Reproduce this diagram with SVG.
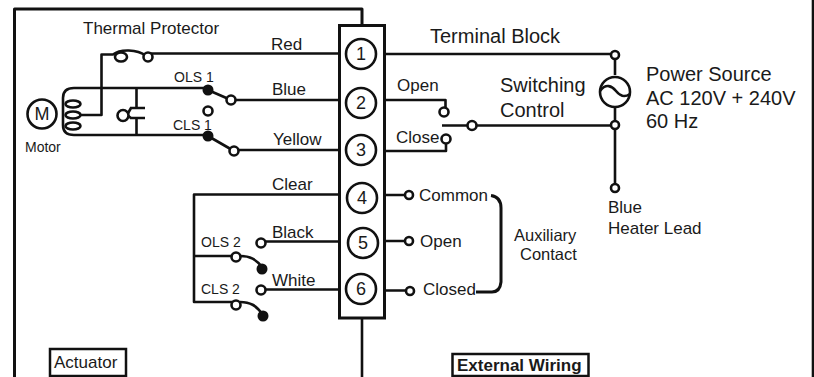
<svg xmlns="http://www.w3.org/2000/svg" width="814" height="377" viewBox="0 0 814 377">
<style>
text{font-family:"Liberation Sans",Arial,sans-serif;fill:#1a1a1a}
.w{fill:none;stroke:#111;stroke-width:2.6;stroke-linejoin:round}
.t{fill:#fff;stroke:#111;stroke-width:3}
.o{fill:#fff;stroke:#111;stroke-width:2.6}
.d{fill:#111}
.l20{font-size:20px}.l17{font-size:17px}.l16{font-size:16.5px}.l14{font-size:14px}.n{font-size:18px;text-anchor:middle}
</style>
<rect width="814" height="377" fill="#fff"/>
<g id="connectors">
<path class="w" d="M14.500 377V9H362V25" style="stroke-width:3"/>
<path class="w" d="M813 0V377"/>
<path class="w" d="M362 318V377"/>
<path class="w" d="M340 53.500H148M80 115H101.500V54.500H113C120 49 137 49 146 56"/>
<path class="w" d="M340 100H232M205 88H74Q63 88 63 98V125Q63 135 74 135H205M136.500 88V108M136.500 118V135"/>
<path class="w" d="M340 150H235M208 136L234 151M208 90L231 100"/>
<path class="w" d="M340 194.500H194V302H236M194 256H236"/>
<path class="w" d="M340 241.500H262M340 289.500H262"/>
<path class="w" d="M240 256C250 256 256 259 263 268M240 302C250 302 256 305 263 315"/>
<path class="w" d="M384 54H615M615 55V75M615 108V188"/>
<path class="w" d="M384 100H445.500V110M384 151H446V139"/>
<path class="w" d="M442 125.500H615"/>
<path class="w" d="M384 195H409M384 241H409M384 290.500H410"/>
<path class="w" d="M491 195.500Q501 197 501 208V282Q500 292 492 292H476" style="stroke-width:3"/>
</g>
<g id="terminal-block"><rect class="t" x="339.500" y="25.500" width="45" height="292.500"/></g>
<g id="term-1"><circle class="o" cx="361" cy="54" r="15"/><text class="n" x="361" y="60">1</text></g>
<g id="term-2"><circle class="o" cx="361" cy="103" r="15"/><text class="n" x="361" y="109">2</text></g>
<g id="term-3"><circle class="o" cx="361" cy="150" r="15"/><text class="n" x="361" y="156">3</text></g>
<g id="term-4"><circle class="o" cx="362" cy="198" r="15"/><text class="n" x="362" y="204">4</text></g>
<g id="term-5"><circle class="o" cx="363" cy="243" r="15"/><text class="n" x="363" y="249">5</text></g>
<g id="term-6"><circle class="o" cx="361" cy="289" r="15"/><text class="n" x="361" y="295">6</text></g>
<g id="motor">
<circle class="o" cx="42" cy="114" r="14.500"/><text class="n" x="42" y="120">M</text>
<ellipse class="o" cx="73" cy="104" rx="7.500" ry="3.500"/><ellipse class="o" cx="73" cy="115" rx="7.500" ry="3.500"/><ellipse class="o" cx="73" cy="126" rx="7.500" ry="3.500"/>
<text class="l14" x="25" y="152">Motor</text>
</g>
<g id="capacitor">
<path class="w" d="M130 108H145M130 118H145M127 115L131 108M127 115L131 118"/>
<circle class="o" cx="123" cy="115.500" r="5.500"/>
</g>
<g id="thermal"><ellipse class="o" cx="121" cy="57" rx="6" ry="4.500"/><circle class="o" cx="148" cy="57" r="4.500"/>
<text class="l17" x="83" y="34">Thermal Protector</text></g>
<g id="ols1"><circle class="d" cx="208" cy="90" r="5.500"/><circle class="o" cx="231" cy="100" r="4.500"/><circle class="o" cx="208" cy="111" r="4.500"/><text class="l14" x="174" y="82">OLS 1</text></g>
<g id="cls1"><circle class="d" cx="208" cy="136" r="5.500"/><circle class="o" cx="234" cy="151" r="4.500"/><text class="l14" x="173" y="130">CLS 1</text></g>
<g id="ols2"><circle class="o" cx="261" cy="243" r="4.500"/><circle class="o" cx="236" cy="257" r="4.500"/><circle class="d" cx="262" cy="269" r="5.500"/><text class="l14" x="201" y="247">OLS 2</text></g>
<g id="cls2"><circle class="o" cx="261" cy="290" r="4.500"/><circle class="o" cx="236" cy="305" r="4.500"/><circle class="d" cx="263" cy="316" r="5.500"/><text class="l14" x="201" y="294">CLS 2</text></g>
<g id="wire-labels">
<text class="l17" x="271" y="50">Red</text><text class="l17" x="272" y="95">Blue</text><text class="l17" x="273" y="145">Yellow</text><text class="l17" x="272" y="190">Clear</text><text class="l17" x="272" y="238">Black</text><text class="l17" x="272" y="286">White</text>
</g>
<g id="switching">
<circle class="o" cx="444" cy="112" r="4.500"/><circle class="o" cx="446" cy="139" r="4.500"/><circle class="o" cx="472" cy="125.500" r="4.500"/>
<text class="l17" x="397" y="91">Open</text><text class="l17" x="396" y="143">Close</text>
<text class="l20" x="500" y="92">Switching</text><text class="l20" x="500" y="117">Control</text>
<text class="l20" x="430" y="43">Terminal Block</text>
</g>
<g id="power">
<circle class="o" cx="615" cy="55" r="4"/><circle class="o" cx="615" cy="125" r="4"/><circle class="o" cx="615" cy="188" r="4"/>
<circle class="o" cx="615" cy="92" r="15"/><path class="w" d="M600 91C606 83 612 86 616 91S624 98 630 94"/>
<text class="l20" x="646" y="81">Power Source</text><text class="l20" x="646" y="105">AC 120V + 240V</text><text class="l20" x="646" y="128">60 Hz</text>
<text class="l17" x="608" y="213">Blue</text><text class="l17" x="608" y="234">Heater Lead</text>
</g>
<g id="aux">
<circle class="o" cx="409" cy="195" r="4"/><circle class="o" cx="409" cy="241" r="4"/><circle class="o" cx="410" cy="291" r="4"/>
<text class="l17" x="419" y="201">Common</text><text class="l17" x="420" y="247">Open</text><text class="l17" x="423" y="295">Closed</text>
<text class="l16" x="514" y="241">Auxiliary</text><text class="l16" x="520" y="260">Contact</text>
</g>
<g id="actuator"><rect x="50" y="349" width="76" height="27" fill="#fff" stroke="#111" stroke-width="2.500"/><text class="l17" x="54" y="368">Actuator</text></g>
<g id="external"><rect x="452.500" y="354" width="136" height="22" fill="#fff" stroke="#111" stroke-width="2.500"/><text class="l17" x="457" y="371" font-weight="bold">External Wiring</text></g>
</svg>
